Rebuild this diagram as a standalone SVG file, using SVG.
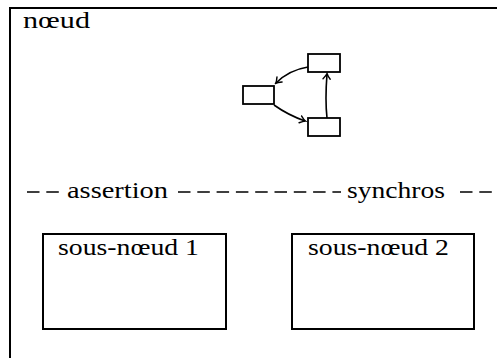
<svg xmlns="http://www.w3.org/2000/svg" width="497" height="358" viewBox="0 0 497 358">
  <style>
    .frame { fill: none; stroke: #000; stroke-width: 2; }
    .box { fill: #fff; stroke: #000; stroke-width: 2; }
    .small { fill: #fff; stroke: #000; stroke-width: 1.8; }
    .edge { fill: none; stroke: #000; stroke-width: 1.6; }
    .dash { stroke: #000; stroke-width: 1.6; stroke-dasharray: 12.5 6.8; }
    .lbl { font-family: "Liberation Serif", "Times New Roman", "DejaVu Serif", serif; font-size: 24px; fill: #000; }
  </style>
  <defs>
    <marker id="tip" viewBox="-6 -5 8 10" markerWidth="8" markerHeight="10" refX="0" refY="0" orient="auto" markerUnits="userSpaceOnUse">
      <path d="M -5 -3.6 Q -1.5 -0.6 0.5 0 Q -1.5 0.6 -5 3.6" fill="none" stroke="#000" stroke-width="1.4" stroke-linecap="round"/>
    </marker>
  </defs>

  <!-- outer node frame -->
  <g id="noeud">
    <rect class="frame" x="10" y="8" width="500" height="360"/>
    <text class="lbl" x="23" y="28" textLength="67" lengthAdjust="spacingAndGlyphs">nœud</text>
  </g>

  <!-- small internal graph -->
  <g id="n-left"><rect class="small" x="243" y="86" width="31" height="18"/></g>
  <g id="n-top"><rect class="small" x="308" y="54" width="32" height="18"/></g>
  <g id="n-bottom"><rect class="small" x="308" y="118" width="32" height="18"/></g>

  <g id="connectors">
    <path class="edge" d="M 308 67 Q 289 70 276 83" marker-end="url(#tip)"/>
    <path class="edge" d="M 274 105 Q 288 115 305 121" marker-end="url(#tip)"/>
    <path class="edge" d="M 327 118 Q 325 100 327 74" marker-end="url(#tip)"/>
  </g>

  <!-- separator line with labels -->
  <g id="separator">
    <line class="dash" x1="27" y1="192" x2="61" y2="192"/>
    <text class="lbl" x="67" y="198" textLength="101" lengthAdjust="spacingAndGlyphs">assertion</text>
    <line class="dash" x1="178" y1="192" x2="341" y2="192"/>
    <text class="lbl" x="347" y="198" textLength="98" lengthAdjust="spacingAndGlyphs">synchros</text>
    <line class="dash" x1="460" y1="192" x2="492" y2="192"/>
  </g>

  <g id="sous-noeud-1">
    <rect class="box" x="43" y="234" width="183" height="95"/>
    <text class="lbl" x="58" y="255" textLength="141" lengthAdjust="spacingAndGlyphs">sous-nœud 1</text>
  </g>
  <g id="sous-noeud-2">
    <rect class="box" x="292" y="234" width="182" height="95"/>
    <text class="lbl" x="308" y="255" textLength="141" lengthAdjust="spacingAndGlyphs">sous-nœud 2</text>
  </g>
</svg>
